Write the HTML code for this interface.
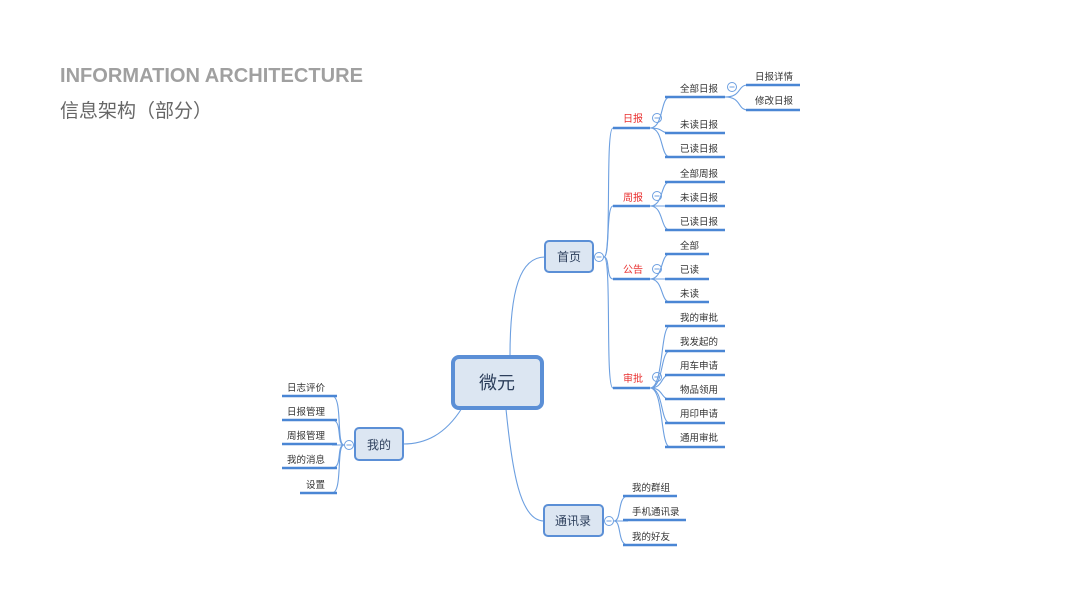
<!DOCTYPE html>
<html><head><meta charset="utf-8"><style>
html,body{margin:0;padding:0;background:#fff;width:1066px;height:600px;overflow:hidden}
svg{display:block}
text{font-family:"Liberation Sans","Noto Sans CJK SC",sans-serif}
.t{font-size:9.5px;fill:#333}
.r{font-size:10px;fill:#e8302f}
.u{stroke:#4a86d4;stroke-width:2.5;fill:none}
.c{stroke:#6c9fe0;stroke-width:1.1;fill:none}
.ci{fill:#fff;stroke:#6c9fe0;stroke-width:1}
.m{stroke:#6c9fe0;stroke-width:1}
.box{fill:#dce6f2;stroke:#5b8fd6;stroke-width:2}
.bt{font-size:12px;fill:#2d3f5c}
</style></head><body>
<svg width="1066" height="600" viewBox="0 0 1066 600">
<text x="60" y="82" style="font-size:20px;font-weight:bold;fill:#a0a0a0;letter-spacing:0px" textLength="303" lengthAdjust="spacingAndGlyphs">INFORMATION ARCHITECTURE</text>
<text x="60" y="117" style="font-size:19px;fill:#666">信息架构（部分）</text>

<path class="c" d="M510 356 C510 290 520 257 545 257"/>
<path class="c" d="M462 408 C445 435 425 444 403 444"/>
<path class="c" d="M506 409 C512 470 520 521 544 521"/>

<rect x="453" y="357" width="89" height="51" rx="6" fill="#dce6f2" stroke="#5b8fd6" stroke-width="4"/>
<text x="497" y="389" text-anchor="middle" style="font-size:18px;fill:#2d3f5c">微元</text>

<rect class="box" x="545" y="241" width="48" height="31" rx="4"/>
<text class="bt" x="569" y="261" text-anchor="middle">首页</text>
<rect class="box" x="355" y="428" width="48" height="32" rx="4"/>
<text class="bt" x="379" y="449" text-anchor="middle">我的</text>
<rect class="box" x="544" y="505" width="59" height="31" rx="4"/>
<text class="bt" x="573" y="525" text-anchor="middle">通讯录</text>

<path class="c" d="M604 257 C612 257 605 128 613 128"/>
<path class="c" d="M604 257 C610 257 606 206 613 206"/>
<path class="c" d="M604 257 C610 257 606 279 613 279"/>
<path class="c" d="M604 257 C612 257 605 388 613 388"/>
<circle class="ci" cx="599" cy="257" r="4.5"/><line class="m" x1="596.5" y1="257" x2="601.5" y2="257"/>

<path class="u" d="M613 128H650 M613 206H650 M613 279H650 M613 388H650"/>
<text class="r" x="623" y="122">日报</text>
<text class="r" x="623" y="201">周报</text>
<text class="r" x="623" y="273">公告</text>
<text class="r" x="623" y="382">审批</text>
<circle class="ci" cx="657" cy="118" r="4.5"/><line class="m" x1="654.5" y1="118" x2="659.5" y2="118"/>
<circle class="ci" cx="657" cy="196" r="4.5"/><line class="m" x1="654.5" y1="196" x2="659.5" y2="196"/>
<circle class="ci" cx="657" cy="269" r="4.5"/><line class="m" x1="654.5" y1="269" x2="659.5" y2="269"/>
<circle class="ci" cx="657" cy="377" r="4.5"/><line class="m" x1="654.5" y1="377" x2="659.5" y2="377"/>

<path class="c" d="M650 128 C664 128 660 97 670 97 M650 128 C664 128 660 133 670 133 M650 128 C664 128 660 157 670 157"/>
<path class="u" d="M665 97H725 M665 133H725 M665 157H725"/>
<text class="t" x="680" y="92">全部日报</text>
<text class="t" x="680" y="128">未读日报</text>
<text class="t" x="680" y="152">已读日报</text>
<path class="c" d="M725 97 C742 97 737 85 748 85 M725 97 C742 97 737 110 748 110"/>
<path class="u" d="M746 85H800 M746 110H800"/>
<circle class="ci" cx="732" cy="87" r="4.5"/><line class="m" x1="729.5" y1="87" x2="734.5" y2="87"/>
<text class="t" x="755" y="80">日报详情</text>
<text class="t" x="755" y="104">修改日报</text>

<path class="c" d="M650 206 C664 206 660 182 670 182 M650 206H670 M650 206 C664 206 660 230 670 230"/>
<path class="u" d="M665 182H725 M665 206H725 M665 230H725"/>
<text class="t" x="680" y="177">全部周报</text>
<text class="t" x="680" y="201">未读日报</text>
<text class="t" x="680" y="225">已读日报</text>

<path class="c" d="M650 279 C664 279 660 254 670 254 M650 279H670 M650 279 C664 279 660 302 670 302"/>
<path class="u" d="M665 254H709 M665 279H709 M665 302H709"/>
<text class="t" x="680" y="249">全部</text>
<text class="t" x="680" y="273">已读</text>
<text class="t" x="680" y="297">未读</text>

<path class="c" d="M650 388 C664 388 660 326 670 326 M650 388 C664 388 660 351 670 351 M650 388 C664 388 660 375 670 375 M650 388 C664 388 660 399 670 399 M650 388 C664 388 660 423 670 423 M650 388 C664 388 660 447 670 447"/>
<path class="u" d="M665 326H725 M665 351H725 M665 375H725 M665 399H725 M665 423H725 M665 447H725"/>
<text class="t" x="680" y="321">我的审批</text>
<text class="t" x="680" y="345">我发起的</text>
<text class="t" x="680" y="369">用车申请</text>
<text class="t" x="680" y="393">物品领用</text>
<text class="t" x="680" y="417">用印申请</text>
<text class="t" x="680" y="441">通用审批</text>

<path class="c" d="M344 445 C336 445 343 396 332 396 M344 445 C336 445 343 420 332 420 M344 445H332 M344 445 C336 445 343 468 332 468 M344 445 C336 445 343 493 332 493"/>
<path class="u" d="M282 396H337 M282 420H337 M282 444H337 M282 468H337 M300 493H337"/>
<circle class="ci" cx="349" cy="445" r="4.5"/><line class="m" x1="346.5" y1="445" x2="351.5" y2="445"/>
<text class="t" x="325" y="391" text-anchor="end">日志评价</text>
<text class="t" x="325" y="415" text-anchor="end">日报管理</text>
<text class="t" x="325" y="439" text-anchor="end">周报管理</text>
<text class="t" x="325" y="463" text-anchor="end">我的消息</text>
<text class="t" x="325" y="488" text-anchor="end">设置</text>

<path class="c" d="M614 521 C622 521 617 496 628 496 M614 521H628 M614 521 C622 521 617 545 628 545"/>
<path class="u" d="M623 496H677 M623 520H686 M623 545H677"/>
<circle class="ci" cx="609" cy="521" r="4.5"/><line class="m" x1="606.5" y1="521" x2="611.5" y2="521"/>
<text class="t" x="632" y="491">我的群组</text>
<text class="t" x="632" y="515">手机通讯录</text>
<text class="t" x="632" y="540">我的好友</text>
</svg>
</body></html>
